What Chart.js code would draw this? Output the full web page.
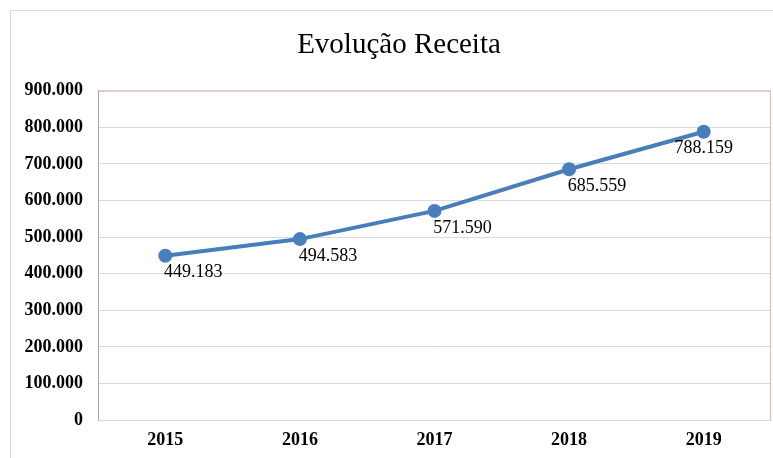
<!DOCTYPE html>
<html>
<head>
<meta charset="utf-8">
<script src="https://cdn.jsdelivr.net/npm/chart.js@4.4.1/dist/chart.umd.min.js"></script>
<style>
  html, body { margin: 0; padding: 0; background: #fff; overflow: hidden; }
  .frame {
    position: absolute; left: 10px; top: 10px;
    width: 762px; height: 447px;
    border-left: 1px solid #d9d9d9; border-top: 1px solid #d9d9d9;
  }
  canvas { display: block; }
</style>
</head>
<body>
<div class="frame"><canvas id="receita" width="762" height="447"></canvas></div>
<script>
const anos = ['2015', '2016', '2017', '2018', '2019']
const receita = [449183, 494583, 571590, 685559, 788159]
const yMax = 900000
const yStep = 100000

// 449183 -> "449.183"
function formata(v){
    return String(v).replace(/\B(?=(\d{3})+(?!\d))/g, '.')
}

// título um pouco à direita do centro do canvas
const tituloDesloc = {
    id: 'tituloDesloc',
    afterLayout(chart){
        if(chart.titleBlock){
            chart.titleBlock.left += 16
        }
    }
}

// borda da área do gráfico (vermelho claro em cima e à direita, cinza no eixo y)
const bordaArea = {
    id: 'bordaArea',
    beforeDatasetsDraw(chart){
        const a = chart.chartArea
        const ctx = chart.ctx
        ctx.save()
        ctx.lineWidth = 1
        ctx.strokeStyle = '#e8b4b4'
        ctx.beginPath()
        ctx.moveTo(a.left, a.top + 0.5)
        ctx.lineTo(a.right - 0.5, a.top + 0.5)
        ctx.lineTo(a.right - 0.5, a.bottom)
        ctx.stroke()
        ctx.strokeStyle = '#a6a6a6'
        ctx.beginPath()
        ctx.moveTo(a.left + 0.5, a.top)
        ctx.lineTo(a.left + 0.5, a.bottom + 0.5)
        ctx.stroke()
        ctx.restore()
    }
}

// rótulos de valor abaixo de cada ponto
const rotulos = {
    id: 'rotulos',
    afterDatasetsDraw(chart){
        const ctx = chart.ctx
        const pts = chart.getDatasetMeta(0).data
        ctx.save()
        ctx.font = '18px "Liberation Serif", "Times New Roman", serif'
        ctx.fillStyle = '#000'
        ctx.textAlign = 'center'
        ctx.textBaseline = 'middle'
        pts.forEach(function(p, i){
            const dx = i == pts.length - 1 ? 0 : 28
            ctx.fillText(formata(receita[i]), p.x + dx, p.y + 17)
        })
        ctx.restore()
    }
}

const azul = '#4a7ebb'

new Chart(document.getElementById('receita').getContext('2d'), {
    type: 'line',
    data: {
        labels: anos,
        datasets: [{
            label: 'Receita',
            data: receita,
            borderColor: azul,
            backgroundColor: azul,
            borderWidth: 4,
            pointRadius: 5,
            pointBackgroundColor: azul,
            pointBorderColor: azul,
            tension: 0,
            fill: false
        }]
    },
    options: {
        responsive: false,
        animation: false,
        layout: { autoPadding: false, padding: { left: 0, right: 2, top: 0, bottom: 6 } },
        scales: {
            x: {
                offset: true,
                afterFit: function(scale){
                    scale.height = 32
                    scale.paddingLeft = 0
                    scale.paddingRight = 0
                },
                grid: { display: false, drawTicks: false },
                border: { display: true, color: '#d9d9d9', width: 1 },
                ticks: {
                    padding: 10,
                    color: '#000',
                    font: { family: '"Liberation Serif", "Times New Roman", serif', size: 18, weight: 'bold' }
                }
            },
            y: {
                min: 0,
                max: yMax,
                afterFit: function(scale){ scale.width = 87 },
                grid: { color: '#d9d9d9', drawTicks: false },
                border: { display: false },
                ticks: {
                    stepSize: yStep,
                    padding: 15,
                    color: '#000',
                    font: { family: '"Liberation Serif", "Times New Roman", serif', size: 18, weight: 'bold' },
                    callback: function(v){ return formata(v) }
                }
            }
        },
        plugins: {
            legend: { display: false },
            tooltip: { enabled: false },
            title: {
                display: true,
                text: 'Evolução Receita',
                color: '#000',
                font: { family: '"Liberation Serif", "Times New Roman", serif', size: 29, weight: 'normal' },
                padding: { top: 17, bottom: 28 }
            }
        }
    },
    plugins: [tituloDesloc, bordaArea, rotulos]
})
</script>
</body>
</html>
